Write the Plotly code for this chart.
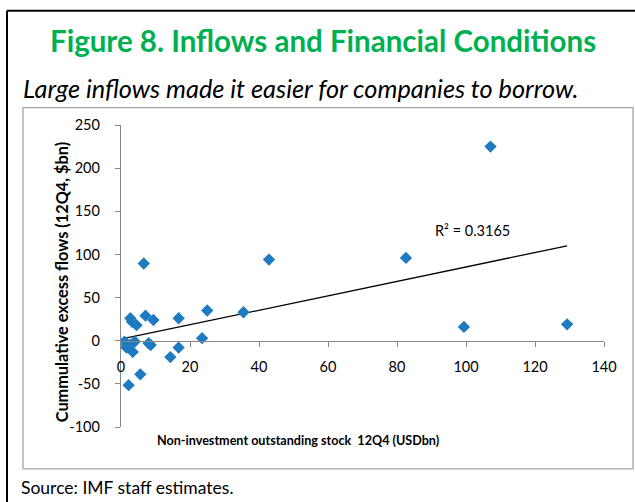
import plotly.graph_objects as go

# Data
stock_usd_bn = [107.1, 129.3, 99.4, 82.6, 42.9, 35.5, 25.0, 23.5, 16.7, 16.7,
                14.3, 9.4, 7.1, 6.6, 2.7, 4.5, 8.0, 8.6, 1.0, 4.0,
                1.6, 3.4, 2.6, 5.6, 2.2, 3.2]
excess_flows = [225, 19, 16, 96, 94, 33, 35, 3, 26, -8,
                -19, 24, 29, 89.5, 26, 18, -3, -5, -1, -1,
                -8, -13, -5, -39, -51.5, 22]
trend_x = [0.6, 129.3]
trend_y = [2.3, 110]
x_ticks = [0, 20, 40, 60, 80, 100, 120, 140]
y_ticks = [-100, -50, 0, 50, 100, 150, 200, 250]
r2_label = "R² = 0.3165"

FONT = "Lato"
ML, MR, MT, MB = 121, 31, 124.5, 75
W, H = 635, 502
PW, PH = W - ML - MR, H - MT - MB


def px(x):
    return (x - ML) / PW


def py(y):
    return (H - MB - y) / PH


fig = go.Figure()
fig.add_trace(go.Scatter(x=trend_x, y=trend_y, mode="lines",
                         line=dict(color="black", width=1.3),
                         hoverinfo="skip", showlegend=False))
fig.add_trace(go.Scatter(x=stock_usd_bn, y=excess_flows, mode="markers",
                         marker=dict(symbol="diamond", size=9.5, color="#1F7BC1",
                                     line=dict(width=0)),
                         showlegend=False))

axis_common = dict(showline=True, linecolor="#868686", linewidth=1.3,
                   ticks="outside", ticklen=5, tickcolor="#868686",
                   showgrid=False, zeroline=False,
                   tickfont=dict(family=FONT, size=14.5, color="black"))

fig.update_xaxes(range=[0, 140], tickvals=x_ticks,
                 ticktext=[str(v) for v in x_ticks], anchor="free",
                 position=(0 - y_ticks[0]) / (y_ticks[-1] - y_ticks[0]),
                 ticklabelstandoff=8, **axis_common)
fig.update_yaxes(range=[-100, 250], tickvals=y_ticks,
                 ticktext=[str(v) for v in y_ticks], ticklabelstandoff=12,
                 **axis_common)

shapes = [
    # chart area grey frame
    dict(type="rect", xref="paper", yref="paper", x0=px(23), x1=px(633),
         y0=py(469), y1=py(107), line=dict(color="#A6A6A6", width=1.3),
         fillcolor="rgba(0,0,0,0)", layer="below"),
    # outer black frame (left and top edges)
    dict(type="line", xref="paper", yref="paper", x0=px(7), x1=px(7),
         y0=py(10), y1=py(510), line=dict(color="black", width=2)),
    dict(type="line", xref="paper", yref="paper", x0=px(7), x1=px(640),
         y0=py(10), y1=py(10), line=dict(color="black", width=2)),
]

annotations = [
    dict(text="<b>Figure 8. Inflows and Financial Conditions</b>", xref="paper",
         yref="paper", x=px(323), y=py(40), xanchor="center", yanchor="middle",
         showarrow=False, font=dict(family=FONT, size=29.5, color="#00B050")),
    dict(text="<i>Large inflows made it easier for companies to borrow.</i>",
         xref="paper", yref="paper", x=px(21), y=py(87), xanchor="left",
         yanchor="middle", showarrow=False,
         font=dict(family=FONT, size=25.3, color="black")),
    dict(text="Source: IMF staff estimates.", xref="paper", yref="paper",
         x=px(19), y=py(488), xanchor="left", yanchor="middle", showarrow=False,
         font=dict(family=FONT, size=17.5, color="black")),
    dict(text="<b>Non-investment outstanding stock  12Q4 (USDbn)</b>",
         xref="paper", yref="paper", x=px(297.5), y=py(441), xanchor="center",
         yanchor="middle", showarrow=False,
         font=dict(family=FONT, size=12.6, color="black")),
    dict(text="<b>Cummulative excess flows (12Q4, $bn)</b>", xref="paper",
         yref="paper", x=px(61), y=py(282), xanchor="center", yanchor="middle",
         textangle=-90, showarrow=False,
         font=dict(family=FONT, size=16.3, color="black")),
    dict(text=r2_label, xref="x", yref="y", x=90.3, y=127.5, xanchor="left",
         yanchor="middle", showarrow=False,
         font=dict(family=FONT, size=14.5, color="black")),
]

fig.update_layout(width=W, height=H, margin=dict(l=ML, r=MR, t=MT, b=MB),
                  paper_bgcolor="white", plot_bgcolor="white",
                  shapes=shapes, annotations=annotations, showlegend=False)

fig.write_html("out.html", config={"displayModeBar": False},
               post_script="document.body.style.margin='0';"
                           "document.body.style.padding='0';")
